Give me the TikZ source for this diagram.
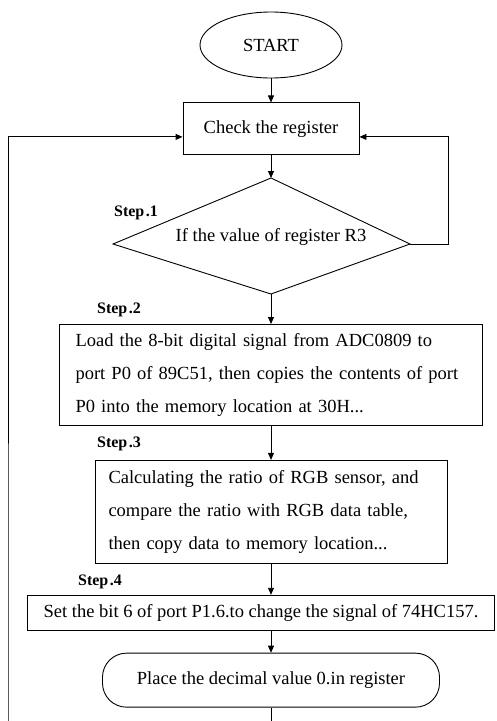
\documentclass[tikz,border=0pt]{standalone}
\usepackage{fontspec}
\setmainfont{Liberation Serif}
\usepackage{tikz}
\usetikzlibrary{shapes.geometric, arrows.meta, positioning}

\begin{document}
\begin{tikzpicture}[
  x=1pt, y=-1pt,
  every node/.style={font=\fontsize{18.5}{33}\selectfont},
  term/.style={ellipse, draw, line width=0.9pt, minimum width=142pt,
               minimum height=66pt, inner sep=1pt},
  proc/.style={rectangle, draw, line width=0.9pt, align=left, inner sep=3pt},
  placebox/.style={rectangle, rounded corners=24pt, draw, line width=0.9pt,
                   minimum width=337pt, minimum height=54pt},
  steplbl/.style={font=\fontsize{16}{18}\selectfont\bfseries},
  arr/.style={-{Triangle[length=7pt,width=6pt]}, line width=0.9pt}
]
  \useasboundingbox (0,0) rectangle (496,721);

  \node[term] (start) at (271,45) {START};
  \node[proc, align=center, minimum width=176pt, minimum height=52pt,
        below=24pt of start] (check) {Check the register};

  % decision: corners of the diamond
  \coordinate (condN) at (271,178);
  \coordinate (condE) at (410,244);
  \coordinate (condS) at (271,294);
  \coordinate (condW) at (113,244);
  \draw[line width=0.9pt] (condN) -- (condE) -- (condS) -- (condW) -- cycle;
  \node (cond) at (271,237) {If the value of register R3};

  \node[proc, text width=391pt, minimum width=423pt, minimum height=101pt,
        below=30pt of condS] (load)
    {\makebox[391pt][s]{Load the 8-bit digital signal from ADC0809 to}\\
     \makebox[391pt][s]{port P0 of 89C51, then copies the contents of port}\\
     P0 into the memory location at 30H...};
  \node[proc, text width=325pt, minimum width=352pt, minimum height=103pt,
        below=34pt of load] (ratio)
    {\makebox[325pt][s]{Calculating the ratio of RGB sensor, and}\\
     \makebox[325pt][s]{compare the ratio with RGB data table,}\\
     then copy data to memory location...};
  \node[proc, align=center, minimum width=467pt, minimum height=35pt,
        below=31pt of ratio, xshift=-10pt] (setbit)
    {Set the bit 6 of port P1.6.to change the signal of 74HC157.};
  \node[placebox, below=22pt of setbit, xshift=10pt] (place)
    {Place the decimal value 0.in register};

  % step labels
  \node[steplbl] (s1) at (136,213) {Step\kern1.5pt.1};
  \node[steplbl] (s2) at (119,310) {Step\kern1.5pt.2};
  \node[steplbl] (s3) at (119,444) {Step\kern1.5pt.3};
  \node[steplbl] (s4) at (100,582) {Step\kern1.5pt.4};

  \draw[arr] (start.south) -- (check.north);
  \draw[arr] (check.south) -- (condN);
  \draw[arr] (condS) -- (load.north);
  \foreach \a/\b in {load/ratio,ratio/setbit}
    \draw[arr] (\a.south) -- (\a.south |- \b.north);
  \draw[arr] (place.north |- setbit.south) -- (place.north);

  % loops back to the register check
  \coordinate (loopL) at (8,744);
  \draw[arr] (condE) -- ++(38,0) |- ([yshift=-8pt]check.east);
  \draw[arr] (place.south) -- ++(0,40) -| (loopL) |- ([yshift=-8pt]check.west);
\end{tikzpicture}
\end{document}
